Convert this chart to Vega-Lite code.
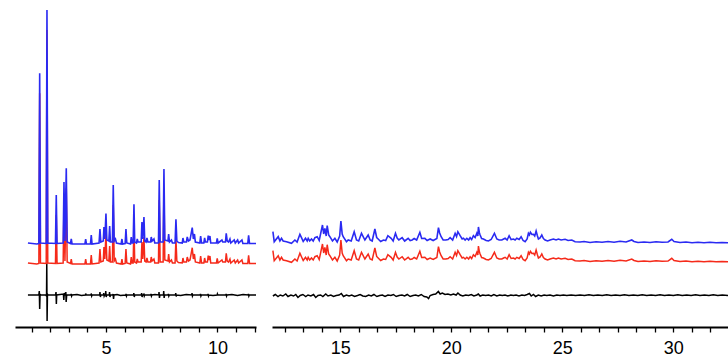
{
"$schema": "https://vega.github.io/schema/vega-lite/v6.json",
"padding": {"left": 15, "top": 0, "right": 0, "bottom": 0},
"autosize": {"type": "pad"},
"spacing": 16,
"bounds": "flush",
"config": {"view": {"stroke": null}},
"datasets": {
"obsL": [{"x":1.5,"y":84},{"x":1.9,"y":83},{"x":1.99,"y":83.5},{"x":2.027,"y":253.7},{"x":2.062,"y":84},{"x":2.32,"y":83.5},{"x":2.354,"y":317},{"x":2.39,"y":84},{"x":2.735,"y":83.5},{"x":2.771,"y":132},{"x":2.806,"y":83.5},{"x":3.08,"y":84},{"x":3.117,"y":145},{"x":3.16,"y":86},{"x":3.22,"y":158.7},{"x":3.26,"y":85},{"x":3.41,"y":83.5},{"x":3.444,"y":88},{"x":3.48,"y":83},{"x":4.055,"y":83},{"x":4.09,"y":88},{"x":4.125,"y":83},{"x":4.305,"y":83},{"x":4.341,"y":92},{"x":4.376,"y":83},{"x":4.69,"y":84},{"x":4.731,"y":98},{"x":4.77,"y":85},{"x":4.88,"y":86},{"x":4.91,"y":100},{"x":4.95,"y":88},{"x":5.0,"y":113.5},{"x":5.04,"y":87},{"x":5.13,"y":86},{"x":5.166,"y":101},{"x":5.2,"y":85},{"x":5.29,"y":85},{"x":5.327,"y":142},{"x":5.37,"y":86},{"x":5.426,"y":88},{"x":5.47,"y":84},{"x":5.68,"y":83},{"x":5.717,"y":88},{"x":5.75,"y":83},{"x":5.86,"y":83.5},{"x":5.897,"y":98},{"x":5.935,"y":84},{"x":6.1,"y":83},{"x":6.135,"y":90},{"x":6.17,"y":84},{"x":6.22,"y":84},{"x":6.256,"y":122.7},{"x":6.29,"y":85},{"x":6.37,"y":84},{"x":6.404,"y":88},{"x":6.44,"y":85},{"x":6.58,"y":85},{"x":6.614,"y":105},{"x":6.65,"y":88},{"x":6.704,"y":110},{"x":6.74,"y":86},{"x":6.8,"y":85},{"x":6.839,"y":89},{"x":6.88,"y":85},{"x":7.0,"y":85},{"x":7.031,"y":90},{"x":7.07,"y":86},{"x":7.152,"y":88},{"x":7.19,"y":84},{"x":7.355,"y":84},{"x":7.39,"y":147},{"x":7.43,"y":85},{"x":7.565,"y":85},{"x":7.601,"y":158},{"x":7.64,"y":87},{"x":7.78,"y":86},{"x":7.812,"y":93},{"x":7.85,"y":85},{"x":7.937,"y":87},{"x":7.98,"y":84},{"x":8.1,"y":84},{"x":8.139,"y":107.7},{"x":8.18,"y":86},{"x":8.25,"y":84.5},{"x":8.42,"y":84},{"x":8.453,"y":89},{"x":8.49,"y":85},{"x":8.61,"y":85},{"x":8.646,"y":90},{"x":8.7,"y":86},{"x":8.77,"y":87},{"x":8.87,"y":99.3},{"x":8.92,"y":88},{"x":8.969,"y":93},{"x":9.01,"y":85},{"x":9.21,"y":84},{"x":9.247,"y":91},{"x":9.29,"y":84},{"x":9.39,"y":84},{"x":9.426,"y":89},{"x":9.46,"y":85},{"x":9.55,"y":85},{"x":9.587,"y":91.3},{"x":9.625,"y":87},{"x":9.664,"y":91},{"x":9.7,"y":84},{"x":9.955,"y":84},{"x":9.991,"y":88.5},{"x":10.03,"y":84},{"x":10.202,"y":87},{"x":10.24,"y":85},{"x":10.36,"y":85},{"x":10.395,"y":93.7},{"x":10.44,"y":86},{"x":10.5,"y":85},{"x":10.561,"y":88},{"x":10.6,"y":84},{"x":10.753,"y":87},{"x":10.8,"y":84},{"x":10.906,"y":87},{"x":10.95,"y":84},{"x":11.099,"y":87},{"x":11.14,"y":83.5},{"x":11.36,"y":83.5},{"x":11.399,"y":91.7},{"x":11.44,"y":83.5},{"x":11.73,"y":83.5}],
"calcL": [{"x":1.5,"y":64},{"x":1.9,"y":63},{"x":1.99,"y":63.5},{"x":2.027,"y":233.7},{"x":2.062,"y":64},{"x":2.32,"y":63.5},{"x":2.354,"y":297},{"x":2.39,"y":64},{"x":2.735,"y":63.5},{"x":2.771,"y":112},{"x":2.806,"y":63.5},{"x":3.08,"y":64},{"x":3.117,"y":125},{"x":3.16,"y":66},{"x":3.22,"y":138.7},{"x":3.26,"y":65},{"x":3.41,"y":63.5},{"x":3.444,"y":68},{"x":3.48,"y":63},{"x":4.055,"y":63},{"x":4.09,"y":68},{"x":4.125,"y":63},{"x":4.305,"y":63},{"x":4.341,"y":72},{"x":4.376,"y":63},{"x":4.69,"y":64},{"x":4.731,"y":78},{"x":4.77,"y":65},{"x":4.88,"y":66},{"x":4.91,"y":80},{"x":4.95,"y":68},{"x":5.0,"y":93.5},{"x":5.04,"y":67},{"x":5.13,"y":66},{"x":5.166,"y":81},{"x":5.2,"y":65},{"x":5.29,"y":65},{"x":5.327,"y":122},{"x":5.37,"y":66},{"x":5.426,"y":68},{"x":5.47,"y":64},{"x":5.68,"y":63},{"x":5.717,"y":68},{"x":5.75,"y":63},{"x":5.86,"y":63.5},{"x":5.897,"y":78},{"x":5.935,"y":64},{"x":6.1,"y":63},{"x":6.135,"y":70},{"x":6.17,"y":64},{"x":6.22,"y":64},{"x":6.256,"y":102.7},{"x":6.29,"y":65},{"x":6.37,"y":64},{"x":6.404,"y":68},{"x":6.44,"y":65},{"x":6.58,"y":65},{"x":6.614,"y":85},{"x":6.65,"y":68},{"x":6.704,"y":90},{"x":6.74,"y":66},{"x":6.8,"y":65},{"x":6.839,"y":69},{"x":6.88,"y":65},{"x":7.0,"y":65},{"x":7.031,"y":70},{"x":7.07,"y":66},{"x":7.152,"y":68},{"x":7.19,"y":64},{"x":7.355,"y":64},{"x":7.39,"y":127},{"x":7.43,"y":65},{"x":7.565,"y":65},{"x":7.601,"y":138},{"x":7.64,"y":67},{"x":7.78,"y":66},{"x":7.812,"y":73},{"x":7.85,"y":65},{"x":7.937,"y":67},{"x":7.98,"y":64},{"x":8.1,"y":64},{"x":8.139,"y":87.7},{"x":8.18,"y":66},{"x":8.25,"y":64.5},{"x":8.42,"y":64},{"x":8.453,"y":69},{"x":8.49,"y":65},{"x":8.61,"y":65},{"x":8.646,"y":70},{"x":8.7,"y":66},{"x":8.77,"y":67},{"x":8.87,"y":79.3},{"x":8.92,"y":68},{"x":8.969,"y":73},{"x":9.01,"y":65},{"x":9.21,"y":64},{"x":9.247,"y":71},{"x":9.29,"y":64},{"x":9.39,"y":64},{"x":9.426,"y":69},{"x":9.46,"y":65},{"x":9.55,"y":65},{"x":9.587,"y":71.3},{"x":9.625,"y":67},{"x":9.664,"y":71},{"x":9.7,"y":64},{"x":9.955,"y":64},{"x":9.991,"y":68.5},{"x":10.03,"y":64},{"x":10.202,"y":67},{"x":10.24,"y":65},{"x":10.36,"y":65},{"x":10.395,"y":73.7},{"x":10.44,"y":66},{"x":10.5,"y":65},{"x":10.561,"y":68},{"x":10.6,"y":64},{"x":10.753,"y":67},{"x":10.8,"y":64},{"x":10.906,"y":67},{"x":10.95,"y":64},{"x":11.099,"y":67},{"x":11.14,"y":63.5},{"x":11.36,"y":63.5},{"x":11.399,"y":71.7},{"x":11.44,"y":63.5},{"x":11.73,"y":63.5}],
"diffL": [{"x":1.5,"y":32},{"x":1.99,"y":32},{"x":2.01,"y":36},{"x":2.027,"y":18},{"x":2.045,"y":33},{"x":2.06,"y":32},{"x":2.3,"y":32},{"x":2.335,"y":31},{"x":2.345,"y":64},{"x":2.36,"y":6},{"x":2.375,"y":33},{"x":2.4,"y":32},{"x":2.74,"y":32},{"x":2.76,"y":35},{"x":2.775,"y":23},{"x":2.79,"y":32},{"x":3.09,"y":33},{"x":3.11,"y":27},{"x":3.13,"y":34},{"x":3.15,"y":32},{"x":3.19,"y":32},{"x":3.2,"y":35},{"x":3.215,"y":25},{"x":3.235,"y":31},{"x":3.26,"y":32},{"x":3.43,"y":32},{"x":3.44,"y":33},{"x":3.46,"y":31},{"x":3.48,"y":32},{"x":3.7,"y":32.5},{"x":3.9,"y":31.5},{"x":4.08,"y":32},{"x":4.09,"y":33.5},{"x":4.11,"y":32},{"x":4.33,"y":32},{"x":4.34,"y":33.5},{"x":4.36,"y":31},{"x":4.38,"y":32},{"x":4.72,"y":32},{"x":4.73,"y":35},{"x":4.75,"y":30},{"x":4.77,"y":32},{"x":4.89,"y":32},{"x":4.9,"y":34},{"x":4.92,"y":31},{"x":4.94,"y":32},{"x":4.98,"y":32},{"x":4.99,"y":36},{"x":5.01,"y":30},{"x":5.03,"y":32},{"x":5.15,"y":32},{"x":5.16,"y":35},{"x":5.18,"y":30},{"x":5.2,"y":32},{"x":5.31,"y":32},{"x":5.32,"y":33},{"x":5.34,"y":28},{"x":5.36,"y":32},{"x":5.5,"y":32.5},{"x":5.65,"y":31.5},{"x":5.89,"y":32},{"x":5.9,"y":33},{"x":5.92,"y":31},{"x":5.94,"y":32},{"x":6.24,"y":32},{"x":6.25,"y":34},{"x":6.27,"y":30},{"x":6.29,"y":32},{"x":6.59,"y":32},{"x":6.6,"y":34},{"x":6.62,"y":30},{"x":6.64,"y":32},{"x":6.69,"y":32},{"x":6.7,"y":33.5},{"x":6.72,"y":31},{"x":6.74,"y":32},{"x":7.01,"y":32},{"x":7.02,"y":33},{"x":7.04,"y":31},{"x":7.06,"y":32},{"x":7.2,"y":32.6},{"x":7.37,"y":32},{"x":7.38,"y":35},{"x":7.4,"y":29},{"x":7.42,"y":32},{"x":7.58,"y":32},{"x":7.59,"y":36},{"x":7.61,"y":29},{"x":7.63,"y":32},{"x":7.79,"y":32},{"x":7.8,"y":33},{"x":7.82,"y":31},{"x":7.84,"y":32},{"x":8.12,"y":32},{"x":8.13,"y":34},{"x":8.15,"y":30.5},{"x":8.17,"y":32},{"x":8.35,"y":31.4},{"x":8.6,"y":32.5},{"x":8.85,"y":32},{"x":8.86,"y":34},{"x":8.88,"y":31},{"x":8.9,"y":32},{"x":9.23,"y":32},{"x":9.24,"y":33},{"x":9.26,"y":31},{"x":9.28,"y":32},{"x":9.57,"y":32},{"x":9.58,"y":33},{"x":9.6,"y":31},{"x":9.62,"y":32},{"x":9.8,"y":31.5},{"x":9.99,"y":32},{"x":10.0,"y":33},{"x":10.02,"y":32},{"x":10.38,"y":32},{"x":10.39,"y":33},{"x":10.41,"y":31},{"x":10.43,"y":32},{"x":10.65,"y":32.5},{"x":10.9,"y":31.5},{"x":11.15,"y":32.5},{"x":11.38,"y":32},{"x":11.39,"y":33},{"x":11.41,"y":31},{"x":11.43,"y":32},{"x":11.73,"y":32}],
"obsR": [{"x":11.971,"y":95.3},{"x":12.03,"y":85.3},{"x":12.21,"y":90.3},{"x":12.286,"y":86},{"x":12.358,"y":88.7},{"x":12.43,"y":86},{"x":12.583,"y":85.3},{"x":12.808,"y":83.7},{"x":12.961,"y":87},{"x":13.06,"y":85},{"x":13.186,"y":92.7},{"x":13.258,"y":89.3},{"x":13.335,"y":85.5},{"x":13.438,"y":88.7},{"x":13.515,"y":86},{"x":13.56,"y":88.7},{"x":13.627,"y":86},{"x":13.708,"y":88},{"x":13.785,"y":86},{"x":13.861,"y":89.3},{"x":13.965,"y":90.3},{"x":14.055,"y":86.5},{"x":14.203,"y":102},{"x":14.257,"y":93},{"x":14.311,"y":98.7},{"x":14.37,"y":91},{"x":14.415,"y":101.3},{"x":14.482,"y":92},{"x":14.536,"y":90.3},{"x":14.653,"y":86},{"x":14.761,"y":88.7},{"x":14.865,"y":85},{"x":14.977,"y":91},{"x":15.032,"y":106},{"x":15.09,"y":93},{"x":15.135,"y":90.3},{"x":15.284,"y":85.3},{"x":15.36,"y":87},{"x":15.495,"y":86},{"x":15.63,"y":95.3},{"x":15.734,"y":87},{"x":15.833,"y":86},{"x":15.959,"y":93.7},{"x":16.112,"y":87},{"x":16.26,"y":92},{"x":16.35,"y":87},{"x":16.44,"y":86},{"x":16.562,"y":98},{"x":16.643,"y":89.5},{"x":16.71,"y":88},{"x":16.823,"y":85.5},{"x":16.949,"y":87},{"x":17.048,"y":86.5},{"x":17.147,"y":91.3},{"x":17.295,"y":88.7},{"x":17.385,"y":86},{"x":17.489,"y":93.7},{"x":17.565,"y":89},{"x":17.642,"y":87},{"x":17.79,"y":89.3},{"x":17.903,"y":86},{"x":18.06,"y":88.7},{"x":18.15,"y":86.5},{"x":18.24,"y":87},{"x":18.33,"y":88.5},{"x":18.443,"y":87},{"x":18.587,"y":94.7},{"x":18.668,"y":88.5},{"x":18.812,"y":88.7},{"x":18.915,"y":86.5},{"x":19.05,"y":88},{"x":19.185,"y":86.5},{"x":19.352,"y":88.5},{"x":19.424,"y":99.3},{"x":19.478,"y":94},{"x":19.545,"y":90.3},{"x":19.635,"y":87},{"x":19.757,"y":87},{"x":19.86,"y":87.5},{"x":19.95,"y":89.3},{"x":20.063,"y":87},{"x":20.175,"y":93.7},{"x":20.238,"y":90.5},{"x":20.297,"y":95.3},{"x":20.4,"y":91.3},{"x":20.49,"y":88},{"x":20.549,"y":88.7},{"x":20.625,"y":87},{"x":20.702,"y":88.7},{"x":20.783,"y":87},{"x":20.85,"y":89.3},{"x":20.918,"y":87.5},{"x":20.999,"y":91.3},{"x":21.075,"y":89.5},{"x":21.152,"y":93.7},{"x":21.197,"y":91},{"x":21.224,"y":100},{"x":21.269,"y":94},{"x":21.3,"y":92},{"x":21.368,"y":88.5},{"x":21.449,"y":88},{"x":21.571,"y":86.5},{"x":21.674,"y":86},{"x":21.796,"y":87.5},{"x":21.944,"y":93.7},{"x":22.052,"y":88},{"x":22.156,"y":87},{"x":22.277,"y":87},{"x":22.358,"y":88},{"x":22.426,"y":88.7},{"x":22.516,"y":87},{"x":22.606,"y":91.3},{"x":22.696,"y":87.5},{"x":22.8,"y":88},{"x":22.876,"y":87},{"x":22.952,"y":88.7},{"x":23.056,"y":87.5},{"x":23.146,"y":90.3},{"x":23.236,"y":86.5},{"x":23.326,"y":85.3},{"x":23.416,"y":88},{"x":23.474,"y":93.7},{"x":23.519,"y":92},{"x":23.564,"y":94.7},{"x":23.632,"y":92.5},{"x":23.699,"y":92.7},{"x":23.758,"y":91},{"x":23.821,"y":96},{"x":23.875,"y":91.5},{"x":23.925,"y":88},{"x":24.0,"y":89},{"x":24.077,"y":92},{"x":24.149,"y":88.5},{"x":24.226,"y":87},{"x":24.338,"y":86},{"x":24.451,"y":87},{"x":24.6,"y":88},{"x":24.72,"y":87},{"x":24.825,"y":88},{"x":24.946,"y":87},{"x":25.126,"y":87.7},{"x":25.261,"y":86.5},{"x":25.428,"y":87},{"x":25.576,"y":85.3},{"x":25.8,"y":85},{"x":25.98,"y":85.5},{"x":26.25,"y":84.5},{"x":26.52,"y":85.3},{"x":26.79,"y":84.7},{"x":27.06,"y":85.5},{"x":27.33,"y":84.7},{"x":27.6,"y":85.7},{"x":27.87,"y":85},{"x":28.127,"y":87},{"x":28.23,"y":85.5},{"x":28.41,"y":84.5},{"x":28.68,"y":85},{"x":28.95,"y":84.5},{"x":29.22,"y":85.3},{"x":29.49,"y":84.7},{"x":29.76,"y":85},{"x":29.928,"y":87.7},{"x":30.03,"y":85.5},{"x":30.3,"y":84.5},{"x":30.57,"y":85},{"x":30.84,"y":84.3},{"x":31.11,"y":84.7},{"x":31.38,"y":84.3},{"x":31.65,"y":84.7},{"x":31.92,"y":84.3},{"x":32.19,"y":84.5},{"x":32.46,"y":84.3}],
"calcR": [{"x":11.971,"y":76.3},{"x":12.03,"y":66.3},{"x":12.21,"y":71.3},{"x":12.286,"y":67},{"x":12.358,"y":69.7},{"x":12.43,"y":67},{"x":12.583,"y":66.3},{"x":12.808,"y":64.7},{"x":12.961,"y":68},{"x":13.06,"y":66},{"x":13.186,"y":73.7},{"x":13.258,"y":70.3},{"x":13.335,"y":66.5},{"x":13.438,"y":69.7},{"x":13.515,"y":67},{"x":13.56,"y":69.7},{"x":13.627,"y":67},{"x":13.708,"y":69},{"x":13.785,"y":67},{"x":13.861,"y":70.3},{"x":13.965,"y":71.3},{"x":14.055,"y":67.5},{"x":14.203,"y":83},{"x":14.257,"y":74},{"x":14.311,"y":79.7},{"x":14.37,"y":72},{"x":14.415,"y":82.3},{"x":14.482,"y":73},{"x":14.536,"y":71.3},{"x":14.653,"y":67},{"x":14.761,"y":69.7},{"x":14.865,"y":66},{"x":14.977,"y":72},{"x":15.032,"y":87},{"x":15.09,"y":74},{"x":15.135,"y":71.3},{"x":15.284,"y":66.3},{"x":15.36,"y":68},{"x":15.495,"y":67},{"x":15.63,"y":76.3},{"x":15.734,"y":68},{"x":15.833,"y":67},{"x":15.959,"y":74.7},{"x":16.112,"y":68},{"x":16.26,"y":73},{"x":16.35,"y":68},{"x":16.44,"y":67},{"x":16.562,"y":79},{"x":16.643,"y":70.5},{"x":16.71,"y":69},{"x":16.823,"y":66.5},{"x":16.949,"y":68},{"x":17.048,"y":67.5},{"x":17.147,"y":72.3},{"x":17.295,"y":69.7},{"x":17.385,"y":67},{"x":17.489,"y":74.7},{"x":17.565,"y":70},{"x":17.642,"y":68},{"x":17.79,"y":70.3},{"x":17.903,"y":67},{"x":18.06,"y":69.7},{"x":18.15,"y":67.5},{"x":18.24,"y":68},{"x":18.33,"y":69.5},{"x":18.443,"y":68},{"x":18.587,"y":75.7},{"x":18.668,"y":69.5},{"x":18.812,"y":69.7},{"x":18.915,"y":67.5},{"x":19.05,"y":69},{"x":19.185,"y":67.5},{"x":19.352,"y":69.5},{"x":19.424,"y":80.3},{"x":19.478,"y":75},{"x":19.545,"y":71.3},{"x":19.635,"y":68},{"x":19.757,"y":68},{"x":19.86,"y":68.5},{"x":19.95,"y":70.3},{"x":20.063,"y":68},{"x":20.175,"y":74.7},{"x":20.238,"y":71.5},{"x":20.297,"y":76.3},{"x":20.4,"y":72.3},{"x":20.49,"y":69},{"x":20.549,"y":69.7},{"x":20.625,"y":68},{"x":20.702,"y":69.7},{"x":20.783,"y":68},{"x":20.85,"y":70.3},{"x":20.918,"y":68.5},{"x":20.999,"y":72.3},{"x":21.075,"y":70.5},{"x":21.152,"y":74.7},{"x":21.197,"y":72},{"x":21.224,"y":81},{"x":21.269,"y":75},{"x":21.3,"y":73},{"x":21.368,"y":69.5},{"x":21.449,"y":69},{"x":21.571,"y":67.5},{"x":21.674,"y":67},{"x":21.796,"y":68.5},{"x":21.944,"y":74.7},{"x":22.052,"y":69},{"x":22.156,"y":68},{"x":22.277,"y":68},{"x":22.358,"y":69},{"x":22.426,"y":69.7},{"x":22.516,"y":68},{"x":22.606,"y":72.3},{"x":22.696,"y":68.5},{"x":22.8,"y":69},{"x":22.876,"y":68},{"x":22.952,"y":69.7},{"x":23.056,"y":68.5},{"x":23.146,"y":71.3},{"x":23.236,"y":67.5},{"x":23.326,"y":66.3},{"x":23.416,"y":69},{"x":23.474,"y":74.7},{"x":23.519,"y":73},{"x":23.564,"y":75.7},{"x":23.632,"y":73.5},{"x":23.699,"y":73.7},{"x":23.758,"y":72},{"x":23.821,"y":77},{"x":23.875,"y":72.5},{"x":23.925,"y":69},{"x":24.0,"y":70},{"x":24.077,"y":73},{"x":24.149,"y":69.5},{"x":24.226,"y":68},{"x":24.338,"y":67},{"x":24.451,"y":68},{"x":24.6,"y":69},{"x":24.72,"y":68},{"x":24.825,"y":69},{"x":24.946,"y":68},{"x":25.126,"y":68.7},{"x":25.261,"y":67.5},{"x":25.428,"y":68},{"x":25.576,"y":66.3},{"x":25.8,"y":66},{"x":25.98,"y":66.5},{"x":26.25,"y":65.5},{"x":26.52,"y":66.3},{"x":26.79,"y":65.7},{"x":27.06,"y":66.5},{"x":27.33,"y":65.7},{"x":27.6,"y":66.7},{"x":27.87,"y":66},{"x":28.127,"y":68},{"x":28.23,"y":66.5},{"x":28.41,"y":65.5},{"x":28.68,"y":66},{"x":28.95,"y":65.5},{"x":29.22,"y":66.3},{"x":29.49,"y":65.7},{"x":29.76,"y":66},{"x":29.928,"y":68.7},{"x":30.03,"y":66.5},{"x":30.3,"y":65.5},{"x":30.57,"y":66},{"x":30.84,"y":65.3},{"x":31.11,"y":65.7},{"x":31.38,"y":65.3},{"x":31.65,"y":65.7},{"x":31.92,"y":65.3},{"x":32.19,"y":65.5},{"x":32.46,"y":65.3}],
"diffR": [{"x":11.97,"y":31},{"x":12.08,"y":32.5},{"x":12.2,"y":30.5},{"x":12.3,"y":32},{"x":12.42,"y":31},{"x":12.55,"y":33},{"x":12.65,"y":30.5},{"x":12.78,"y":32},{"x":12.9,"y":31},{"x":13.0,"y":32.5},{"x":13.1,"y":29.5},{"x":13.2,"y":31.5},{"x":13.32,"y":32.5},{"x":13.45,"y":30.5},{"x":13.55,"y":32},{"x":13.68,"y":31},{"x":13.8,"y":32.5},{"x":13.9,"y":29.5},{"x":14.0,"y":31.5},{"x":14.12,"y":32},{"x":14.22,"y":30.5},{"x":14.35,"y":33},{"x":14.45,"y":31},{"x":14.58,"y":32},{"x":14.7,"y":30.5},{"x":14.82,"y":31.5},{"x":14.95,"y":32},{"x":15.05,"y":33.5},{"x":15.15,"y":30.5},{"x":15.28,"y":32},{"x":15.4,"y":31},{"x":15.52,"y":32},{"x":15.65,"y":30.5},{"x":15.78,"y":31.5},{"x":15.9,"y":32.5},{"x":16.02,"y":31},{"x":16.15,"y":30.5},{"x":16.28,"y":32},{"x":16.4,"y":31},{"x":16.52,"y":32.5},{"x":16.65,"y":30.5},{"x":16.78,"y":31.5},{"x":16.9,"y":32},{"x":17.02,"y":30.5},{"x":17.15,"y":32},{"x":17.28,"y":31.5},{"x":17.4,"y":32.5},{"x":17.52,"y":30.5},{"x":17.65,"y":31.5},{"x":17.78,"y":32},{"x":17.9,"y":31},{"x":18.02,"y":32.5},{"x":18.15,"y":30.5},{"x":18.28,"y":31.5},{"x":18.4,"y":32},{"x":18.52,"y":31},{"x":18.65,"y":32.5},{"x":18.78,"y":30.5},{"x":18.9,"y":30},{"x":18.98,"y":28.5},{"x":19.05,"y":31.5},{"x":19.18,"y":32.5},{"x":19.3,"y":33},{"x":19.42,"y":35.5},{"x":19.5,"y":33},{"x":19.6,"y":34},{"x":19.72,"y":32.5},{"x":19.85,"y":33},{"x":19.98,"y":32},{"x":20.1,"y":33},{"x":20.22,"y":32},{"x":20.3,"y":34},{"x":20.4,"y":32},{"x":20.52,"y":31},{"x":20.65,"y":32},{"x":20.78,"y":31.5},{"x":20.9,"y":32.5},{"x":21.02,"y":31},{"x":21.15,"y":32},{"x":21.22,"y":33},{"x":21.3,"y":31},{"x":21.42,"y":32},{"x":21.55,"y":31.5},{"x":21.68,"y":32},{"x":21.8,"y":31},{"x":21.92,"y":32.5},{"x":22.05,"y":31},{"x":22.18,"y":32},{"x":22.3,"y":31.5},{"x":22.42,"y":32},{"x":22.55,"y":31},{"x":22.68,"y":32},{"x":22.8,"y":31.5},{"x":22.92,"y":32},{"x":23.05,"y":31},{"x":23.18,"y":32},{"x":23.3,"y":31.5},{"x":23.42,"y":32.5},{"x":23.52,"y":33.5},{"x":23.6,"y":31},{"x":23.7,"y":32.5},{"x":23.8,"y":30.5},{"x":23.92,"y":32},{"x":24.05,"y":31},{"x":24.18,"y":32},{"x":24.3,"y":31.5},{"x":24.45,"y":32},{"x":24.6,"y":31},{"x":24.75,"y":32},{"x":24.9,"y":31.5},{"x":25.05,"y":32},{"x":25.2,"y":31.5},{"x":25.4,"y":32},{"x":25.6,"y":31.5},{"x":25.8,"y":32},{"x":26.0,"y":31.5},{"x":26.2,"y":32.2},{"x":26.4,"y":31.5},{"x":26.6,"y":32},{"x":26.8,"y":31.5},{"x":27.0,"y":32.2},{"x":27.2,"y":31.6},{"x":27.4,"y":32},{"x":27.6,"y":31.5},{"x":27.8,"y":32.2},{"x":28.0,"y":31.6},{"x":28.2,"y":32},{"x":28.4,"y":31.5},{"x":28.6,"y":32.2},{"x":28.8,"y":31.6},{"x":29.0,"y":32},{"x":29.2,"y":31.5},{"x":29.4,"y":32.2},{"x":29.6,"y":31.6},{"x":29.8,"y":32},{"x":30.0,"y":31.5},{"x":30.2,"y":32.2},{"x":30.4,"y":31.6},{"x":30.6,"y":32},{"x":30.8,"y":31.5},{"x":31.0,"y":32.2},{"x":31.2,"y":31.6},{"x":31.4,"y":32},{"x":31.6,"y":31.5},{"x":31.8,"y":32.2},{"x":32.0,"y":31.6},{"x":32.2,"y":32},{"x":32.46,"y":31.6}]
},
"hconcat": [
{
"width": 241, "height": 327,
"encoding": {
"x": {"field": "x", "type": "quantitative", "scale": {"domain": [0.92, 11.73], "nice": false, "zero": false},
  "axis": {"title": null, "grid": false, "values": [1.6667, 2.5, 3.3333, 4.1667, 5, 5.8333, 6.6667, 7.5, 8.3333, 9.1667, 10, 10.8333, 11.6667],
    "labelExpr": "abs(datum.value - round(datum.value/5)*5) < 0.01 ? format(datum.value, 'd') : ''",
    "domainColor": "#000000", "domainWidth": 2.2, "tickColor": "#000000", "tickWidth": 1.3, "tickSize": 5,
    "labelFont": "Liberation Sans", "labelFontSize": 18, "labelColor": "#000000", "labelPadding": 7, "labelFlush": false, "labelOverlap": false}},
"y": {"field": "y", "type": "quantitative", "scale": {"domain": [0, 327], "nice": false, "zero": false}, "axis": null}
},
"layer": [
{"data": {"name": "diffL"}, "mark": {"type": "line", "color": "#000000", "strokeWidth": 1.5, "clip": true}},
{"data": {"name": "calcL"}, "mark": {"type": "line", "color": "#f52a1a", "strokeWidth": 1.5, "clip": true}},
{"data": {"name": "obsL"}, "mark": {"type": "line", "color": "#2a2af2", "strokeWidth": 1.6, "clip": true}}
]
},
{
"width": 456, "height": 327,
"encoding": {
"x": {"field": "x", "type": "quantitative", "scale": {"domain": [11.93, 32.46], "nice": false, "zero": false},
  "axis": {"title": null, "grid": false, "values": [12.5, 13.3333, 14.1667, 15, 15.8333, 16.6667, 17.5, 18.3333, 19.1667, 20, 20.8333, 21.6667, 22.5, 23.3333, 24.1667, 25, 25.8333, 26.6667, 27.5, 28.3333, 29.1667, 30, 30.8333, 31.6667],
    "labelExpr": "abs(datum.value - round(datum.value/5)*5) < 0.01 ? format(datum.value, 'd') : ''",
    "domainColor": "#000000", "domainWidth": 2.2, "tickColor": "#000000", "tickWidth": 1.3, "tickSize": 5,
    "labelFont": "Liberation Sans", "labelFontSize": 18, "labelColor": "#000000", "labelPadding": 7, "labelFlush": false, "labelOverlap": false}},
"y": {"field": "y", "type": "quantitative", "scale": {"domain": [0, 327], "nice": false, "zero": false}, "axis": null}
},
"layer": [
{"data": {"name": "diffR"}, "mark": {"type": "line", "color": "#000000", "strokeWidth": 1.5, "clip": true}},
{"data": {"name": "calcR"}, "mark": {"type": "line", "color": "#f52a1a", "strokeWidth": 1.5, "clip": true}},
{"data": {"name": "obsR"}, "mark": {"type": "line", "color": "#2a2af2", "strokeWidth": 1.6, "clip": true}}
]
}
]
}
